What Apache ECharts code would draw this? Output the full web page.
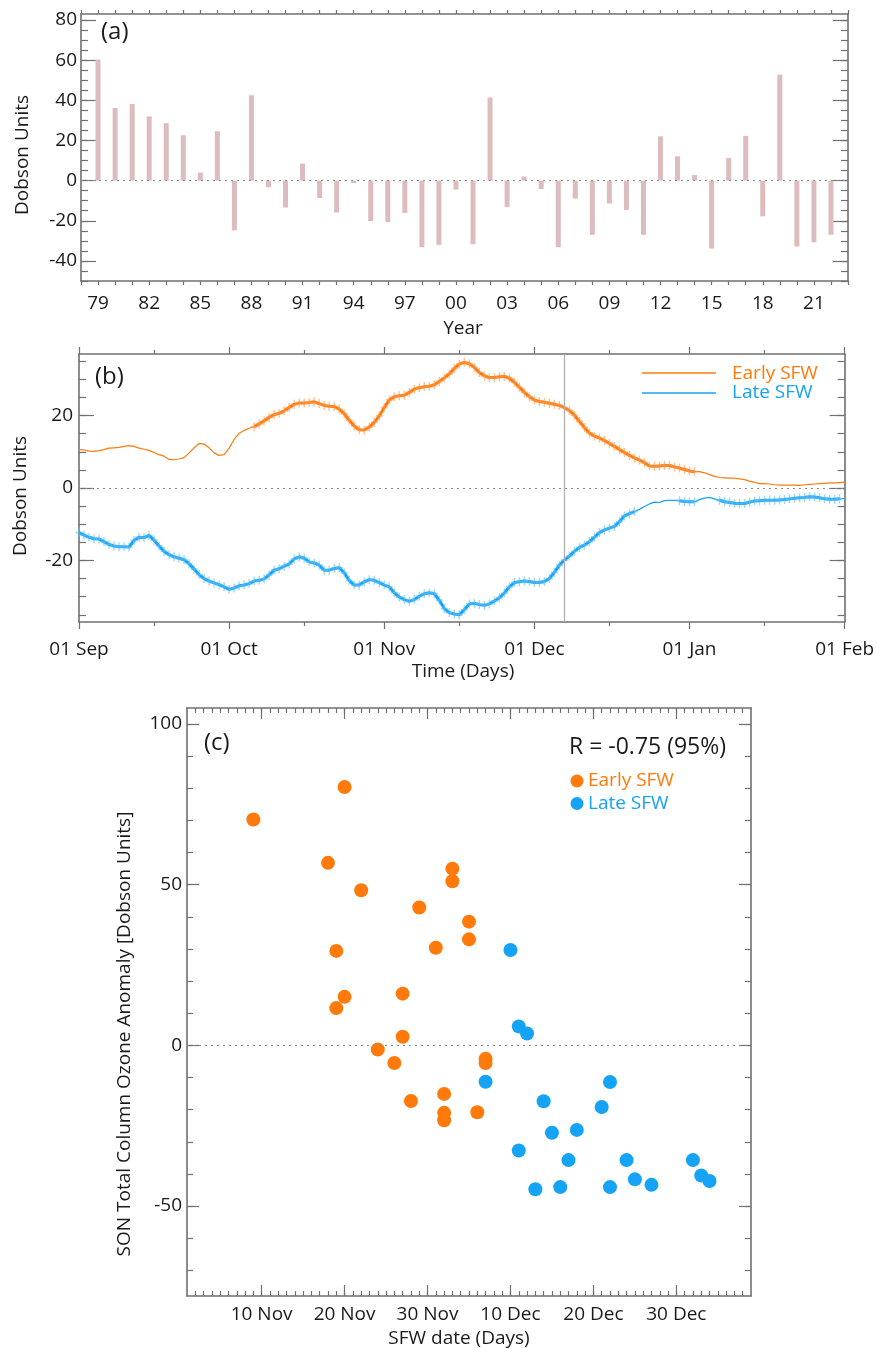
<!DOCTYPE html>
<html><head><meta charset="utf-8">
<script src="https://cdn.jsdelivr.net/npm/echarts@6/dist/echarts.min.js"></script>
<style>html,body{margin:0;padding:0;background:#fff}#c{width:877px;height:1348px}</style>
</head><body><div id="c"></div>
<script>
// ---------- Panel (a) ----------
const years = [1979,1980,1981,1982,1983,1984,1985,1986,1987,1988,1989,1990,1991,1992,1993,1994,1995,1996,1997,1998,1999,
  2000,2001,2002,2003,2004,2005,2006,2007,2008,2009,2010,2011,2012,2013,2014,2015,2016,2017,2018,2019,2020,2021,2022];
const anomalyDU = [60.3,36.2,38.2,32,28.6,22.6,4,24.6,-24.8,42.5,-3.3,-13.4,8.5,-8.7,-15.9,-1.2,-20.1,-20.6,-16.1,-33.2,-32,
  -4.4,-31.7,41.4,-13.1,2,-4.2,-33.2,-8.9,-27,-11.4,-14.6,-27,22.1,12.1,2.8,-33.8,11.2,22.3,-17.8,52.8,-32.8,-30.7,-27];
const yearLabelValues = [1979,1982,1985,1988,1991,1994,1997,2000,2003,2006,2009,2012,2015,2018,2021];
const aTickLabels = [-40,-20,0,20,40,60,80];

// ---------- Panel (b) ----------
const monthDays = [0,30,61,91,122,153];
const monthLabels = ['01 Sep','01 Oct','01 Nov','01 Dec','01 Jan','01 Feb'];
const midMonthDays = [15,45,76,106,137];
const earlySFW = [
  10.6,10.5,10.2,10.1,10.3,10.6,11,11.1,11.2,11.5,
  11.7,11.5,11,10.7,10.4,9.8,9.2,8.8,7.9,7.8,
  8,8.4,9.7,11.1,12.3,12.1,11.1,9.7,9,9.2,
  11,13.4,15.1,15.9,16.5,16.9,17.7,18.6,19.5,20.3,
  20.6,21.3,22.2,23.1,23.5,23.5,23.6,23.8,23.3,22.8,
  22.6,22.5,21.8,20.5,18.7,17.1,16.1,16,16.8,18.1,
  19.9,22.2,24.3,25.2,25.5,25.6,26.4,27.3,27.7,28,
  28.1,28.5,29.4,30.4,31.5,33,34.2,34.7,34.3,33.3,
  31.9,31,30.5,30.5,30.7,30.8,30.3,29.2,27.8,26.4,
  25.2,24.3,23.9,23.7,23.4,23.1,22.8,22.2,21.4,20.1,
  18.4,16.7,15.2,14.3,13.8,13.1,12.3,11.5,10.6,9.8,
  9,8.3,7.7,7,6.1,6,6.1,6.2,6.2,5.8,
  5.5,5.1,4.7,4.5,4.5,4.2,3.7,3.2,2.9,2.8,
  2.7,2.7,2.5,2.3,1.9,1.6,1.2,1.2,1.1,0.9,
  0.8,0.8,0.8,0.8,0.7,0.9,1,1.1,1.2,1.3,
  1.4,1.4,1.5,1.6];
const lateSFW = [
  -12.3,-13,-13.6,-14,-14.1,-14.8,-15.6,-16,-16.2,-16.2,
  -16.3,-14.5,-13.6,-13.7,-13.1,-14.4,-16,-17.5,-18.4,-19,
  -19.4,-19.8,-20.9,-22.4,-23.9,-25,-25.7,-26.2,-26.7,-27.3,
  -28,-27.6,-27,-26.8,-26.4,-25.7,-25.5,-25.1,-24,-22.7,
  -22.3,-21.6,-21,-19.6,-19,-19.4,-20.4,-20.7,-21.3,-22.7,
  -22.7,-22.2,-22,-23.4,-25.5,-26.8,-26.8,-25.9,-25.3,-25.5,
  -26.1,-26.8,-27.3,-28.9,-30.1,-30.8,-31.3,-30.8,-29.9,-29.2,
  -28.9,-29.2,-31,-33.3,-34.4,-34.8,-35,-33.6,-32,-31.8,
  -32.2,-32.4,-32,-31.2,-30.3,-29,-27.3,-26.1,-25.9,-25.7,
  -25.8,-26.1,-26.1,-25.8,-25,-23.3,-21.3,-19.9,-18.8,-17.5,
  -16.4,-15.8,-14.8,-13.6,-12.3,-11.6,-11.1,-10.6,-9.3,-7.7,
  -7.1,-6.5,-5.9,-5.1,-4.4,-3.9,-4,-3.5,-3.4,-3.4,
  -3.5,-3.7,-3.8,-3.8,-3.2,-2.8,-2.6,-3,-3.4,-3.8,
  -4,-4.2,-4.3,-4.3,-3.9,-3.6,-3.5,-3.4,-3.4,-3.4,
  -3.3,-3.2,-3,-2.8,-2.7,-2.6,-2.4,-2.5,-2.7,-3,
  -3.1,-3.1,-3,-2.9];
const earlySigRanges = [[35,123]];
const lateSigRanges = [[0,111],[120,123],[128,152]];
const refLineDay = 97;
const bTickLabels = [-20,0,20];

// ---------- Panel (c) ----------
const earlyDates = [8,19,17,21,32,32,28,34,34,30,18,26,19,18,26,23,25,27,31,31,31,35,36,36];
const earlyOzone = [70.3,80.4,56.8,48.3,55,51.1,42.9,38.5,33,30.4,29.4,16.1,15.1,11.6,2.7,-1.3,-5.5,-17.3,-15.1,-21,-23.3,-20.8,-4.2,-5.5];
const lateDates = [39,40,41,36,51,43,50,44,47,40,46,53,61,62,63,54,56,42,45,51];
const lateOzone = [29.7,5.9,3.7,-11.3,-11.4,-17.4,-19.2,-27.2,-26.3,-32.7,-35.7,-35.7,-35.7,-40.5,-42.2,-41.7,-43.4,-44.8,-44.1,-44.1];
const dateTickDays = [9,19,29,39,49,59];
const dateTickLabels = ['10 Nov','20 Nov','30 Nov','10 Dec','20 Dec','30 Dec'];
const cTickLabels = [-50,0,50,100];

// ---------- styling ----------
const FONT = '"Open Sans", "Noto Sans", sans-serif';
const AX = '#707070';
const TXT = '#1a1a1a';
const ORANGE = '#ff7a0a';
const BLUE = '#14a3f5';
const ORANGE_M = 'rgba(255,150,70,0.6)';
const BLUE_M = 'rgba(90,190,250,0.6)';
const PLUS = 'path://M4,0H6V4H10V6H6V10H4V6H0V4H4Z';

function range(a, b, s) { const r = []; for (let v = a; v <= b + 1e-9; v += s) r.push(Math.round(v * 100) / 100); return r; }

function axis(o) {
  const a = {
    type: 'value', gridIndex: o.grid, position: o.pos, min: o.min, max: o.max,
    axisLine: { show: !!o.line, onZero: false, lineStyle: { color: AX, width: 1.6 } },
    axisTick: { show: !!o.ticks, inside: !!o.inside, length: o.len || 5, lineStyle: { color: AX, width: 1.2 } },
    axisLabel: { show: false },
    splitLine: { show: false }
  };
  if (o.ticks) a.axisTick.customValues = o.ticks;
  if (o.labels) {
    a.axisLabel = { show: true, customValues: o.labels, formatter: o.fmt, margin: o.margin,
      fontSize: 19, fontFamily: FONT, color: TXT };
  }
  return a;
}

const xAxes = [
  axis({grid:0,pos:'bottom',min:1978,max:2023,line:1,ticks:range(1978,2023,1),len:4,labels:yearLabelValues,
        fmt:v=>String(v%100).padStart(2,'0'),margin:13}),
  axis({grid:0,pos:'top',min:1978,max:2023,line:1,ticks:range(1978,2023,1),len:4}),
  axis({grid:1,pos:'bottom',min:0,max:153,line:1,ticks:monthDays,len:7,labels:monthDays,
        fmt:v=>monthLabels[monthDays.indexOf(v)],margin:18}),
  axis({grid:1,pos:'bottom',min:0,max:153,ticks:midMonthDays,len:4}),
  axis({grid:1,pos:'top',min:0,max:153,line:1,ticks:monthDays,len:7}),
  axis({grid:1,pos:'top',min:0,max:153,ticks:midMonthDays,len:4}),
  axis({grid:2,pos:'bottom',min:0,max:68,line:1,ticks:dateTickDays,len:11,inside:1,labels:dateTickDays,
        fmt:v=>dateTickLabels[dateTickDays.indexOf(v)],margin:9}),
  axis({grid:2,pos:'bottom',min:0,max:68,ticks:range(1,67,1),len:5,inside:1}),
  axis({grid:2,pos:'top',min:0,max:68,line:1,ticks:dateTickDays,len:11,inside:1}),
  axis({grid:2,pos:'top',min:0,max:68,ticks:range(1,67,1),len:5,inside:1})
];
const yAxes = [
  axis({grid:0,pos:'left',min:-50,max:83,line:1,ticks:aTickLabels,len:15,inside:1,labels:aTickLabels,fmt:v=>String(v),margin:4}),
  axis({grid:0,pos:'left',min:-50,max:83,ticks:range(-50,80,5),len:7,inside:1}),
  axis({grid:0,pos:'right',min:-50,max:83,line:1,ticks:aTickLabels,len:15,inside:1}),
  axis({grid:0,pos:'right',min:-50,max:83,ticks:range(-50,80,5),len:7,inside:1}),
  axis({grid:1,pos:'left',min:-37,max:37,line:1,ticks:bTickLabels,len:15,inside:1,labels:bTickLabels,fmt:v=>String(v),margin:6}),
  axis({grid:1,pos:'left',min:-37,max:37,ticks:range(-35,35,5),len:7,inside:1}),
  axis({grid:1,pos:'right',min:-37,max:37,line:1,ticks:bTickLabels,len:15,inside:1}),
  axis({grid:1,pos:'right',min:-37,max:37,ticks:range(-35,35,5),len:7,inside:1}),
  axis({grid:2,pos:'left',min:-78,max:105,line:1,ticks:cTickLabels,len:12,inside:1,labels:cTickLabels,fmt:v=>String(v),margin:5}),
  axis({grid:2,pos:'left',min:-78,max:105,ticks:range(-70,100,10),len:6,inside:1}),
  axis({grid:2,pos:'right',min:-78,max:105,line:1,ticks:cTickLabels,len:12,inside:1}),
  axis({grid:2,pos:'right',min:-78,max:105,ticks:range(-70,100,10),len:6,inside:1})
];

const zeroLine = {
  silent: true, symbol: 'none', label: { show: false },
  lineStyle: { type: [2, 4], color: '#8a8a8a', width: 1 },
  data: [{ yAxis: 0 }]
};

function sigMask(values, ranges) {
  return values.map((v, d) => [d, ranges.some(r => d >= r[0] && d <= r[1]) ? v : null]);
}
const full = vals => vals.map((v, d) => [d, v]);

const series = [
  { type: 'bar', xAxisIndex: 0, yAxisIndex: 0, barWidth: 5,
    itemStyle: { color: '#dcbcbc' },
    data: years.map((y, i) => [y, anomalyDU[i]]), markLine: zeroLine },

  { name: 'Early SFW', type: 'line', xAxisIndex: 2, yAxisIndex: 4, showSymbol: false,
    lineStyle: { color: ORANGE, width: 1.2 }, data: full(earlySFW),
    markLine: { silent: true, symbol: 'none', label: { show: false },
      data: [
        { yAxis: 0, lineStyle: { type: [2, 4], color: '#8a8a8a', width: 1 } },
        { xAxis: refLineDay, lineStyle: { type: 'solid', color: '#b0b0b0', width: 1.3 } }
      ] } },
  { name: 'Late SFW', type: 'line', xAxisIndex: 2, yAxisIndex: 4, showSymbol: false,
    lineStyle: { color: BLUE, width: 1.2 }, data: full(lateSFW) },
  { type: 'line', xAxisIndex: 2, yAxisIndex: 4, connectNulls: false, showAllSymbol: true,
    symbol: PLUS, symbolSize: [7, 9], itemStyle: { color: ORANGE_M, borderWidth: 0 },
    lineStyle: { color: ORANGE, width: 3 }, data: sigMask(earlySFW, earlySigRanges) },
  { type: 'line', xAxisIndex: 2, yAxisIndex: 4, connectNulls: false, showAllSymbol: true,
    symbol: PLUS, symbolSize: [7, 9], itemStyle: { color: BLUE_M, borderWidth: 0 },
    lineStyle: { color: BLUE, width: 3 }, data: sigMask(lateSFW, lateSigRanges) },

  { name: 'Early SFW', type: 'scatter', xAxisIndex: 6, yAxisIndex: 8, symbolSize: 14,
    itemStyle: { color: ORANGE, opacity: 1 }, data: earlyDates.map((d, i) => [d, earlyOzone[i]]),
    markLine: zeroLine },
  { name: 'Late SFW', type: 'scatter', xAxisIndex: 6, yAxisIndex: 8, symbolSize: 14,
    itemStyle: { color: BLUE, opacity: 1 }, data: lateDates.map((d, i) => [d, lateOzone[i]]) }
];

function txt(text, x, y, o) {
  o = o || {};
  return { type: 'text', x: x, y: y, rotation: o.rot || 0, z: 100,
    style: { text: text, fill: o.color || TXT, font: (o.size || 19) + 'px ' + FONT,
      textAlign: o.align || 'left', textVerticalAlign: 'middle' } };
}

const graphic = [
  txt('(a)', 101, 32, { size: 24 }),
  txt('(b)', 95, 377, { size: 24 }),
  txt('(c)', 204, 743, { size: 24 }),
  txt('Dobson Units', 23, 155, { rot: Math.PI / 2, align: 'center' }),
  txt('Dobson Units', 21, 496, { rot: Math.PI / 2, align: 'center' }),
  txt('SON Total Column Ozone Anomaly [Dobson Units]', 125, 1034, { rot: Math.PI / 2, align: 'center' }),
  txt('Year', 463, 329, { align: 'center' }),
  txt('Time (Days)', 463, 672, { align: 'center' }),
  txt('SFW date (Days)', 459, 1339, { align: 'center' }),
  { type: 'line', z: 100, shape: { x1: 642, y1: 373, x2: 716, y2: 373 }, style: { stroke: ORANGE, lineWidth: 1.5 } },
  { type: 'line', z: 100, shape: { x1: 642, y1: 393, x2: 716, y2: 393 }, style: { stroke: BLUE, lineWidth: 1.5 } },
  txt('Early SFW', 732, 374, { color: ORANGE }),
  txt('Late SFW', 732, 393, { color: BLUE }),
  txt('R = -0.75 (95%)', 569, 747, { size: 23 }),
  { type: 'circle', z: 100, shape: { cx: 577, cy: 781, r: 6.5 }, style: { fill: ORANGE } },
  { type: 'circle', z: 100, shape: { cx: 577, cy: 803.5, r: 6.5 }, style: { fill: BLUE } },
  txt('Early SFW', 588, 781, { color: ORANGE }),
  txt('Late SFW', 588, 804, { color: BLUE })
];

const chart = echarts.init(document.getElementById('c'), null, { renderer: 'canvas' });
chart.setOption({
  animation: false,
  backgroundColor: '#ffffff',
  textStyle: { fontFamily: FONT },
  grid: [
    { left: 81, top: 14, width: 767, height: 267, containLabel: false },
    { left: 79, top: 354, width: 768, height: 268, containLabel: false },
    { left: 187, top: 708, width: 564, height: 588, containLabel: false }
  ],
  xAxis: xAxes,
  yAxis: yAxes,
  series: series,
  graphic: graphic
});
</script>
</body></html>
